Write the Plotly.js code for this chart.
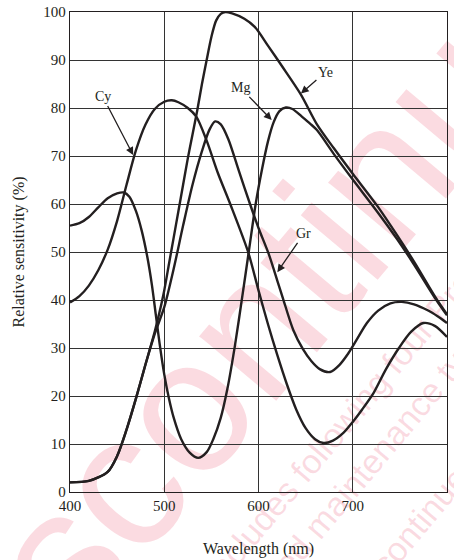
<!DOCTYPE html>
<html>
<head>
<meta charset="utf-8">
<script src="https://cdn.plot.ly/plotly-3.0.1.min.js"></script>
<style>html,body{margin:0;padding:0;background:#fff;}#chart{width:454px;height:560px;}</style>
</head>
<body>
<div id="chart"></div>
<script>
// Data (wavelength nm, relative sensitivity %)
var yeNm  = [400,420,440,450,460,470,480,490,495,500,505,510,515,520,525,530,535,540,545,550,555,560,565,572,585,596,610,625,645,662,680,700,726,747,765,788,800];
var yeVal = [2,2.3,4.2,7.5,13,19.5,26.5,33.5,37.5,42,47.5,53,58.5,64,69.5,74.5,79.5,85,90,94.8,98.2,99.6,100,99.7,98.6,96.9,93,88.7,82.8,76.6,71.6,66.3,59.6,53.5,48,40.5,37];

var grNm  = [400,420,440,450,460,470,480,490,500,510,520,530,540,548,554,560,568,579,591,600,611,620,626,637,647,656,665,676,686,695,705,715,727,740,752,765,780,790,800];
var grVal = [2,2.3,4.2,7.5,13,19.5,26.5,33,38.5,46.5,55.5,64,71,75.5,77.2,76.6,73.5,67,60,55,49.5,44,40.3,33.7,29.8,27.3,25.6,25,26.5,28.8,32,35.2,37.8,39.3,39.6,39.1,37.8,36.6,35.2];

var cyNm  = [400,410,420,430,440,450,460,470,480,490,500,508,515,525,534,545,557,570,589,600,610,620,630,640,650,660,669,679,690,700,710,722,735,749,762,775,787,800];
var cyVal = [39.5,40.8,43,46.2,50.5,56.5,64,71.2,76.5,79.8,81.3,81.6,81.2,80,78.2,73.2,66.4,60,50,42,35,28.5,22.5,17.2,13.3,11,10.2,10.7,12.3,14.6,17.2,20.6,25.5,30,33.4,35.2,34.6,32.3];

var mgNm  = [400,410,420,430,440,450,457,463,470,476,482,487,491,495,500,505,510,518,527,536,545,552,560,567,575,583,590,597,604,610,616,622,629,636,646,655,662,680,700,726,747,765,788,800];
var mgVal = [55.5,56,57.3,59.3,61.2,62.2,62.4,61.5,58.5,54.5,49,43,37,31,24.5,19.5,15.5,11,8.2,7.1,8.3,11,15.5,21.5,30.5,41,50.5,60,67.5,73,77,79.3,80.1,79.8,78.2,76.7,75.4,70.4,65.1,58.4,52.7,47.4,40.2,36.8];

var seriesNames = ['Ye','Gr','Cy','Mg'];
var xTicks = [400,500,600,700,800];
var yTicks = [0,10,20,30,40,50,60,70,80,90,100];

var lineStyle = {color:'#231f20', width:2.4, shape:'spline', smoothing:0.8};
function tr(x,y,name){ return {x:x, y:y, name:name, type:'scatter', mode:'lines', line:lineStyle, hoverinfo:'skip'}; }
var data = [tr(yeNm,yeVal,seriesNames[0]), tr(grNm,grVal,seriesNames[1]), tr(cyNm,cyVal,seriesNames[2]), tr(mgNm,mgVal,seriesNames[3])];

var serif = 'Liberation Serif, Times New Roman, serif';
function lab(text, x, y, ax, ay){
  return {text:text, x:x, y:y, ax:ax, ay:ay, xref:'x', yref:'y', axref:'x', ayref:'y',
    showarrow:true, arrowhead:2, arrowsize:1.2, arrowwidth:1.3, arrowcolor:'#231f20', standoff:0,
    font:{family:serif, size:14, color:'#231f20'}};
}
var annotations = [
  lab('Cy', 467, 70.2, 435, 82.3),
  lab('Mg', 614, 77.5, 581, 84.2),
  lab('Ye', 645, 83, 671, 87.5),
  lab('Gr', 620, 45.8, 648, 53.8)
];

var pink = 'rgba(235,90,120,0.22)';
function wm(text, cx, cy, size){
  return {type:'rect', xref:'paper', yref:'paper', x0:cx-0.01, x1:cx+0.01, y0:cy-0.01, y1:cy+0.01,
    layer:'below', line:{width:0}, fillcolor:'rgba(0,0,0,0)',
    label:{text:text, textangle:-50, textposition:'middle center',
      font:{family:'Liberation Sans, Arial, sans-serif', size:size, color:pink}}};
}
var shapes = [
  wm('Discontinued', 0.48, 0.40, 190),
  wm('includes following four Product lifecycle stage.', 0.96, 0.375, 34),
  wm('planed maintenance type, maintenance type,', 1.02, 0.28, 34),
  wm('planed discontinued type, discontinued type', 1.11, 0.12, 34)
];

var layout = {
  width:454, height:560,
  margin:{l:70, r:7, t:12, b:68},
  paper_bgcolor:'#ffffff', plot_bgcolor:'rgba(0,0,0,0)',
  showlegend:false,
  font:{family:serif, color:'#231f20', size:14},
  xaxis:{range:[400,800], tickvals:xTicks, ticktext:xTicks.map(String), ticks:'',
    showgrid:true, gridcolor:'#333333', gridwidth:1, zeroline:false,
    showline:true, linecolor:'#231f20', linewidth:1.2, mirror:true,
    tickfont:{family:serif, size:15, color:'#231f20'},
    title:{text:'Wavelength (nm)', font:{family:serif, size:16, color:'#231f20'}, standoff:29}},
  yaxis:{range:[0,100], tickvals:yTicks, ticktext:yTicks.map(String), ticks:'',
    showgrid:true, gridcolor:'#333333', gridwidth:1, zeroline:false,
    showline:true, linecolor:'#231f20', linewidth:1.2, mirror:true,
    tickfont:{family:serif, size:15, color:'#231f20'},
    title:{text:'Relative sensitivity (%)', font:{family:serif, size:16, color:'#231f20'}, standoff:14}},
  annotations:annotations,
  shapes:shapes
};
Plotly.newPlot('chart', data, layout, {displayModeBar:false, staticPlot:true});
</script>
</body>
</html>
